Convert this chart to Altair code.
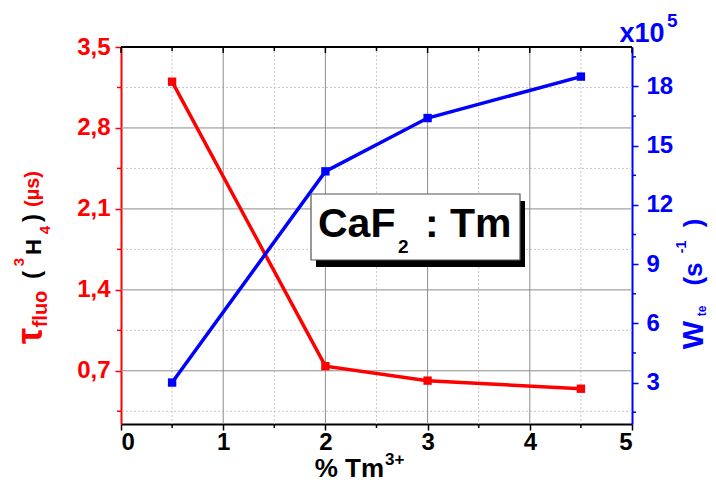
import altair as alt
import pandas as pd

# ---- data ----
conc = [0.5, 2, 3, 4.5]
tau = [3.20, 0.74, 0.615, 0.545]          # left axis, µs
wte = [3.0, 13.7, 16.4, 18.5]             # right axis, x10^5 s^-1

x_ticks = [0, 1, 2, 3, 4, 5]
x_major_grid = [1, 2, 3, 4]
x_minor = [0.5, 1.5, 2.5, 3.5, 4.5]
left_ticks = [0.7, 1.4, 2.1, 2.8, 3.5]
left_major_grid = [0.7, 1.4, 2.1, 2.8]
left_minor = [0.35, 1.05, 1.75, 2.45, 3.15]
right_ticks = [3, 6, 9, 12, 15, 18]
right_minor = [1.5, 4.5, 7.5, 10.5, 13.5, 16.5, 19.5]

W, H = 511, 377
FONT = "Liberation Sans"
RED = "#ff0000"
BLUE = "#0000ff"
GRID = "#8c8c8c"
MINOR = "#c8c8c8"

df = pd.DataFrame({"x": conc, "tau": tau, "w": wte})
xs = alt.Scale(domain=[0, 5], nice=False, zero=False)
ls = alt.Scale(domain=[0.24, 3.5], nice=False, zero=False)
rs = alt.Scale(domain=[0.9, 20], nice=False, zero=False)

x_axis = alt.Axis(values=x_ticks, format="d", title=None, grid=False, orient="bottom",
                  labelFont=FONT, labelFontSize=24, labelFontWeight="bold", labelColor="black",
                  tickColor="black", tickSize=6, tickWidth=1.5, domainColor="black", domainWidth=2,
                  labelPadding=0)
left_axis = alt.Axis(values=left_ticks, title=None, grid=False, orient="left",
                     labelExpr="replace(format(datum.value, '.1f'), '.', ',')",
                     labelFont=FONT, labelFontSize=24, labelFontWeight="bold", labelColor=RED,
                     tickColor=RED, tickSize=6, tickWidth=1.5, domainColor=RED, domainWidth=2,
                     labelPadding=5)
right_axis = alt.Axis(values=right_ticks, title=None, grid=False, orient="right", format="d",
                      labelFont=FONT, labelFontSize=24, labelFontWeight="bold", labelColor=BLUE,
                      tickColor=BLUE, tickSize=6, tickWidth=1.5, domainColor=BLUE, domainWidth=2,
                      labelPadding=8)

def xv():
    return alt.X("v:Q", scale=xs, axis=None)

def lv():
    return alt.Y("v:Q", scale=ls, axis=None)

def rv():
    return alt.Y("v:Q", scale=rs, axis=None)

# ---- grid ----
vmaj = alt.Chart(pd.DataFrame({"v": x_major_grid})).mark_rule(color=GRID, strokeWidth=1).encode(x=xv())
vmin = alt.Chart(pd.DataFrame({"v": x_minor})).mark_rule(color=MINOR, strokeWidth=1, strokeDash=[2, 2]).encode(x=xv())
hmaj = alt.Chart(pd.DataFrame({"v": left_major_grid})).mark_rule(color=GRID, strokeWidth=1).encode(y=lv())
hmin = alt.Chart(pd.DataFrame({"v": left_minor})).mark_rule(color=MINOR, strokeWidth=1, strokeDash=[2, 2]).encode(y=lv())

# ---- extra ticks ----
top_maj = alt.Chart(pd.DataFrame({"v": x_ticks})).mark_rule(color="black", strokeWidth=1.5).encode(
    x=xv(), y=alt.value(0), y2=alt.value(6))
top_min = alt.Chart(pd.DataFrame({"v": x_minor})).mark_rule(color="black", strokeWidth=1.5).encode(
    x=xv(), y=alt.value(0), y2=alt.value(4))
bot_min = alt.Chart(pd.DataFrame({"v": x_minor})).mark_rule(color="black", strokeWidth=1.5).encode(
    x=xv(), y=alt.value(H), y2=alt.value(H + 4))
lmin_ticks = alt.Chart(pd.DataFrame({"v": left_minor})).mark_rule(color=RED, strokeWidth=1.5).encode(
    y=lv(), x=alt.value(-4), x2=alt.value(0))
rmin_ticks = alt.Chart(pd.DataFrame({"v": right_minor})).mark_rule(color=BLUE, strokeWidth=1.5).encode(
    y=rv(), x=alt.value(W), x2=alt.value(W + 4))
top_border = alt.Chart(pd.DataFrame({"v": [0]})).mark_rule(color="black", strokeWidth=2).encode(
    x=alt.value(0), x2=alt.value(W), y=alt.value(0))

# ---- series ----
red_line = alt.Chart(df).mark_line(color=RED, strokeWidth=3.5).encode(
    x=alt.X("x:Q", scale=xs, axis=x_axis),
    y=alt.Y("tau:Q", scale=ls, axis=left_axis))
red_pts = alt.Chart(df).mark_square(color=RED, size=70, opacity=1).encode(
    x=alt.X("x:Q", scale=xs, axis=None),
    y=alt.Y("tau:Q", scale=ls, axis=None))
blue_line = alt.Chart(df).mark_line(color=BLUE, strokeWidth=3.5).encode(
    x=alt.X("x:Q", scale=xs, axis=None),
    y=alt.Y("w:Q", scale=rs, axis=right_axis))
blue_pts = alt.Chart(df).mark_square(color=BLUE, size=70, opacity=1).encode(
    x=alt.X("x:Q", scale=xs, axis=None),
    y=alt.Y("w:Q", scale=rs, axis=None))

# ---- annotations ----
dummy = pd.DataFrame({"a": [0]})

def txt(s, x, y, size, color, angle=0, align="center", baseline="middle"):
    return alt.Chart(dummy).mark_text(
        text=s, font=FONT, fontWeight="bold", fontSize=size, color=color,
        angle=angle, align=align, baseline=baseline
    ).encode(x=alt.value(x), y=alt.value(y))

def rect(x1, y1, x2, y2, fill, stroke=None):
    kw = dict(fill=fill)
    if stroke:
        kw.update(stroke=stroke, strokeWidth=1.2)
    return alt.Chart(dummy).mark_rect(**kw).encode(
        x=alt.value(x1), x2=alt.value(x2), y=alt.value(y1), y2=alt.value(y2))

ann = [
    # left title
    txt("τ", -90, 289, 36, RED, 270),
    txt("fluo", -80, 262, 20, RED, 270),
    txt("(", -88, 228, 24, "black", 270),
    txt("3", -102, 215, 15, RED, 270),
    txt("H", -87, 200, 22, "black", 270),
    txt("4", -76, 183, 15, RED, 270),
    txt(")", -88, 171, 24, "black", 270),
    txt("(µs)", -88, 142, 20, RED, 270),
    # right title
    txt("W", 573, 288, 30, BLUE, 270),
    txt("te", 581, 264, 12, BLUE, 270),
    txt("(s", 573, 227, 26, BLUE, 270),
    txt("-1", 561, 200, 14, BLUE, 270),
    txt(")", 573, 176, 26, BLUE, 270),
    # multiplier
    txt("x10", 521, -13, 27, BLUE),
    txt("5", 546, -26, 19, BLUE, align="left"),
    # x title
    txt("% Tm", 263, 430, 26, "black", align="right", baseline="alphabetic"),
    txt("3+", 264, 418, 17, "black", align="left", baseline="alphabetic"),
    # CaF2 : Tm box
    rect(195, 154, 404, 220, "black"),
    rect(190, 147, 399, 213, "white", "#555555"),
    txt("CaF", 197, 190, 41, "black", align="left", baseline="alphabetic"),
    txt("2", 277, 206, 19, "black", align="left", baseline="alphabetic"),
    txt(": Tm", 304, 190, 41, "black", align="left", baseline="alphabetic"),
]

layers = [hmin, vmin, hmaj, vmaj, red_line, blue_line, red_pts, blue_pts,
          top_maj, top_min, bot_min, lmin_ticks, rmin_ticks, top_border] + ann

chart = alt.layer(*layers).resolve_scale(y="independent").resolve_axis(
    x="independent", y="independent"
).properties(
    width=W, height=H,
    padding={"left": 113, "top": 39, "right": 76, "bottom": 58},
    autosize=alt.AutoSizeParams(type="none"),
).configure_view(stroke=None)

chart.save("out.html", embed_options={"renderer": "svg", "actions": False})
